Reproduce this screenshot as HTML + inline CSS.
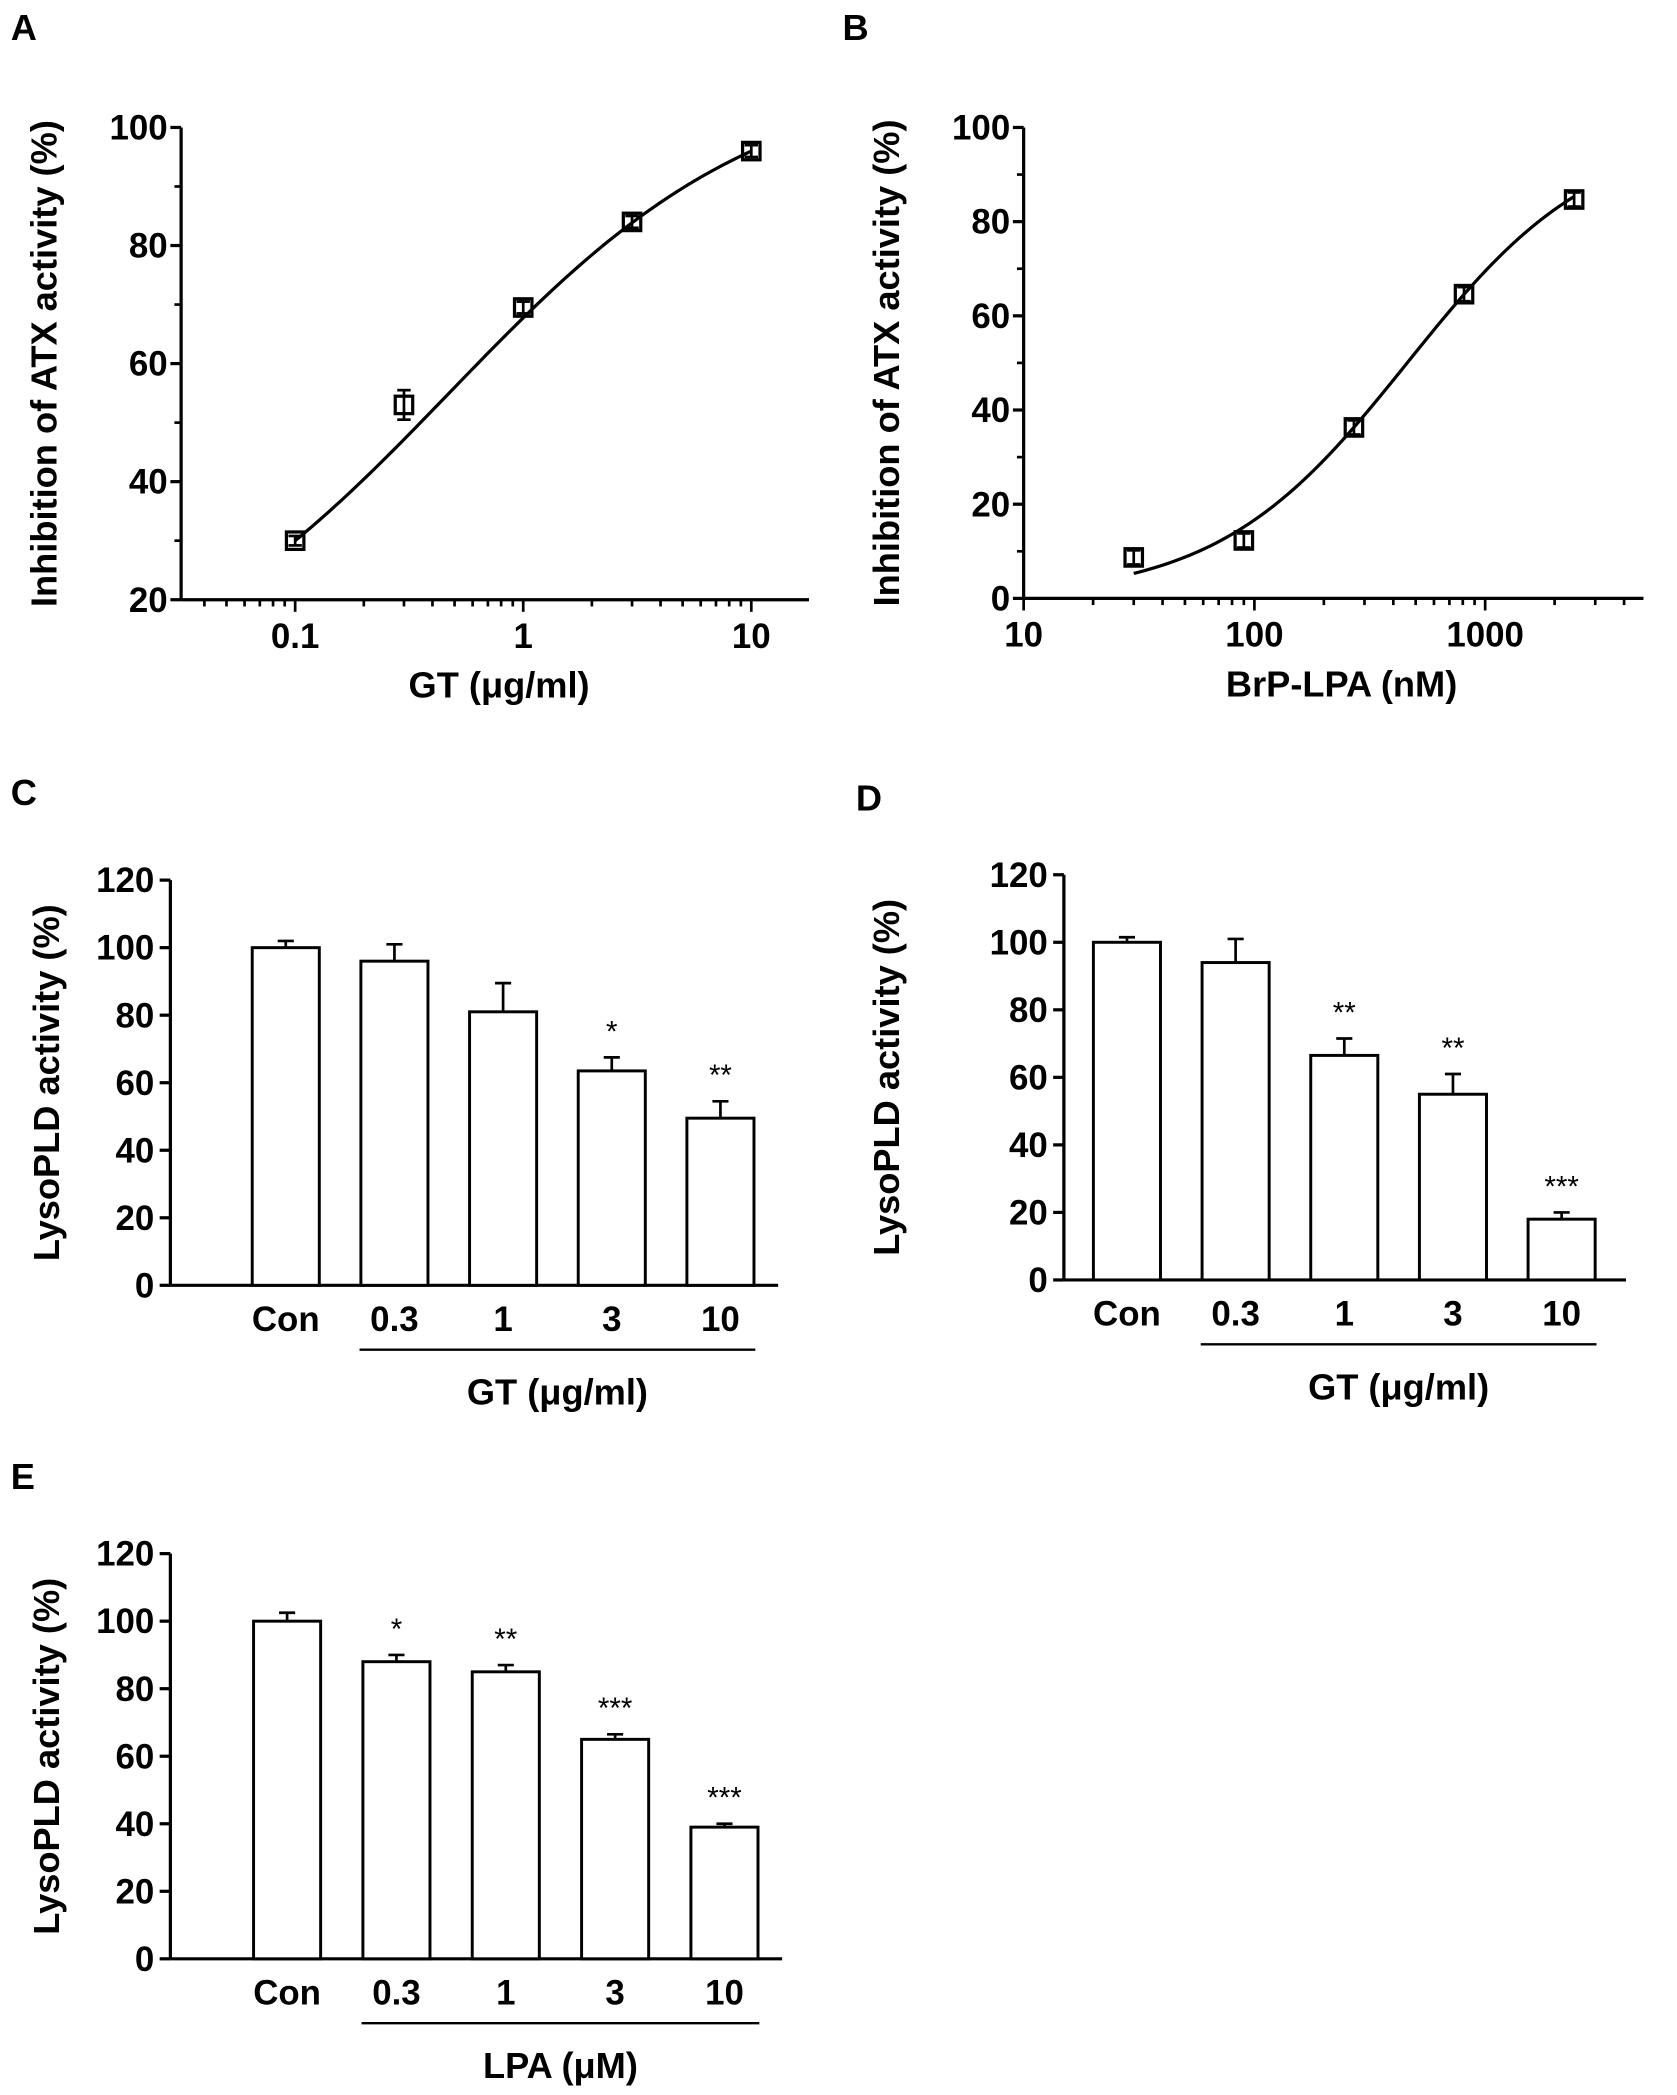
<!DOCTYPE html>
<html><head><meta charset="utf-8"><style>
html,body{margin:0;padding:0;background:#fff;}
svg{display:block;}
text{font-family:"Liberation Sans",Arial,sans-serif;font-weight:bold;fill:#000;}
.tk{font-family:"Liberation Sans Narrow","Liberation Sans",sans-serif;font-size:26px;}
.ttl{font-size:27px;}
.lt{font-size:27px;}
</style></head><body>
<svg id="fig" width="1677" height="2095" viewBox="0 0 1250 1561.5" preserveAspectRatio="none" xmlns="http://www.w3.org/2000/svg"></svg>
<script>
// Panel A data
const aDose = [0.1, 0.3, 1, 3, 10];
const aInhib = [30, 53, 69.5, 84, 96];
const aErr = [0.8, 2.5, 1, 1, 1];
const aFit = [0, 110, -0.325, 0.631]; // bottom, top, logEC50, hill
const aYTicks = [20, 40, 60, 80, 100];
const aXTicks = ["0.1", "1", "10"];
// Panel B data
const bDose = [30, 90, 270, 810, 2430];
const bInhib = [8.7, 12.3, 36.3, 64.6, 84.7];
const bErr = [1.5, 1.5, 1.5, 1.5, 1.5];
const bFit = [0, 100, 2.662, 1.057];
const bYTicks = [0, 20, 40, 60, 80, 100];
const bXTicks = ["10", "100", "1000"];
// Panel C
const cCats = ["Con", "0.3", "1", "3", "10"];
const cVals = [100, 96, 81, 63.5, 49.5];
const cErrs = [2, 5, 8.5, 4, 5];
const cStars = ["", "", "", "*", "**"];
// Panel D
const dCats = ["Con", "0.3", "1", "3", "10"];
const dVals = [100, 94, 66.5, 55, 18];
const dErrs = [1.5, 7, 5, 6, 2];
const dStars = ["", "", "**", "**", "***"];
// Panel E
const eCats = ["Con", "0.3", "1", "3", "10"];
const eVals = [100, 88, 85, 65, 39];
const eErrs = [2.5, 2, 2, 1.5, 1];
const eStars = ["", "*", "**", "***", "***"];
const barYTicks = [0, 20, 40, 60, 80, 100, 120];

const NS = "http://www.w3.org/2000/svg";
const svg = document.getElementById("fig");
function mk(tag, attrs, parent, txt){
  const e = document.createElementNS(NS, tag);
  for (const k in attrs) e.setAttribute(k, attrs[k]);
  if (txt !== undefined) e.textContent = txt;
  (parent || svg).appendChild(e);
  return e;
}
function line(x1,y1,x2,y2,w,p){return mk("line",{x1,y1,x2,y2,stroke:"#000","stroke-width":w||2.4},p);}
function group(name){const g=mk("g",{});return g;}

function logPanel(o){
  const g = group(o.name);
  const X = v => o.x0 + (Math.log10(v) - o.lmin) * o.dec;
  const Y = v => o.yb - (v - o.ymin) / (o.ymax - o.ymin) * (o.yb - o.yt);
  const ax = line(o.x0, o.yt, o.x0, o.yb, 2.4, g);
  
  
  const xa = line(o.x0, o.yb, o.xr, o.yb, 2.4, g);
  
  
  o.yTicks.forEach(v=>{
    line(o.x0-8, Y(v), o.x0, Y(v), 2.4, g);
    const t = mk("text",{x:o.x0-10,y:Y(v)+9,"text-anchor":"end",class:"tk"},g,String(v));
    
    
  });
  for (let i=0;i<o.yTicks.length-1;i++){const m=(o.yTicks[i]+o.yTicks[i+1])/2; line(o.x0-5,Y(m),o.x0,Y(m),2,g);}
  const lmaxV = o.lmin + (o.xr - o.x0)/o.dec;
  for (let d=Math.floor(o.lmin); d<=Math.ceil(lmaxV); d++){
    for (let k=1;k<10;k++){
      const lv = d + Math.log10(k);
      if (lv < o.lmin - 1e-6 || lv > lmaxV) continue;
      const xx = o.x0 + (lv - o.lmin)*o.dec;
      line(xx, o.yb, xx, o.yb + (k===1?9:5), 2, g);
    }
  }
  o.xTicks.forEach(s=>{
    const t = mk("text",{x:X(parseFloat(s)),y:o.yb+36,"text-anchor":"middle",class:"tk"},g,s);
    
    
  });
  const f = o.fit; let d = "";
  const l0 = Math.log10(o.dose[0]), l1 = Math.log10(o.dose[o.dose.length-1]);
  for (let i=0;i<=80;i++){
    const l = l0 + (l1-l0)*i/80;
    const y = f[0] + (f[1]-f[0])/(1+Math.pow(10,(f[2]-l)*f[3]));
    d += (i?"L":"M") + X(Math.pow(10,l)).toFixed(2) + "," + Y(y).toFixed(2);
  }
  const c = mk("path",{d,fill:"none",stroke:"#000","stroke-width":2.4},g);
  
  
  o.dose.forEach((v,i)=>{
    const cx = X(v), cy = Y(o.vals[i]), e = (o.yb-o.yt)/(o.ymax-o.ymin)*o.errs[i];
    line(cx, cy-e, cx, cy+e, 2, g);
    line(cx-5, cy-e, cx+5, cy-e, 2, g);
    line(cx-5, cy+e, cx+5, cy+e, 2, g);
    const r = mk("rect",{x:cx-6.5,y:cy-6.5,width:13,height:13,fill:"none",stroke:"#000","stroke-width":2.4},g);
    
    
  });
  const xt = mk("text",{x:o.xtX,y:o.yb+73,"text-anchor":"middle",class:"ttl"},g,o.xTitle);
  
  
  const yt = mk("text",{x:0,y:0,"text-anchor":"middle",class:"ttl",transform:`translate(${o.ytX},${(o.yt+o.yb)/2}) rotate(-90)`},g,o.yTitle);
  
  
}

function barPanel(o){
  const g = group(o.name);
  const Y = v => o.yb - v/120*(o.yb-o.yt);
  const ax = line(o.x0, o.yt, o.x0, o.yb, 2.4, g);
  
  
  const xa = line(o.x0, o.yb, o.xr, o.yb, 2.4, g);
  
  
  barYTicks.forEach(v=>{
    line(o.x0-8, Y(v), o.x0, Y(v), 2.4, g);
    const t = mk("text",{x:o.x0-12,y:Y(v)+9,"text-anchor":"end",class:"tk"},g,String(v));
    
    
  });
  o.cats.forEach((c,i)=>{
    const cx = o.c0 + i*o.step, w = 50;
    const top = Y(o.vals[i]), et = Y(o.vals[i]+o.errs[i]);
    line(cx, top, cx, et, 2, g);
    line(cx-6, et, cx+6, et, 2, g);
    const r = mk("rect",{x:cx-w/2,y:top,width:w,height:o.yb-top,fill:"#fff",stroke:"#000","stroke-width":2.2},g);
    
    
    if (o.stars[i]){
      const s = mk("text",{x:cx,y:et-12,"text-anchor":"middle",style:"font-size:22px;font-weight:normal"},g,o.stars[i]);
      
      
    }
    const t = mk("text",{x:cx,y:o.yb+34,"text-anchor":"middle",class:"tk"},g,c);
    
    
  });
  const lx0 = o.c0 + o.step - 26, lx1 = o.c0 + 4*o.step + 26;
  line(lx0, o.yb+48, lx1, o.yb+48, 1.8, g);
  const xt = mk("text",{x:(lx0+lx1)/2,y:o.yb+89,"text-anchor":"middle",class:"ttl"},g,o.xTitle);
  
  
  const yt = mk("text",{x:0,y:0,"text-anchor":"middle",class:"ttl",transform:`translate(${o.ytX},${(o.yt+o.yb)/2}) rotate(-90)`},g,"LysoPLD activity (%)");
  
  
}

logPanel({name:"panel-a",x0:135,xr:603,yt:95,yb:447,ymin:20,ymax:100,lmin:-1.5,dec:170,
  dose:aDose,vals:aInhib,errs:aErr,fit:aFit,yTicks:aYTicks,xTicks:aXTicks,
  xTitle:"GT (\u03bcg/ml)",xtX:372,yTitle:"Inhibition of ATX activity (%)",ytX:42});
logPanel({name:"panel-b",x0:763,xr:1225,yt:95,yb:446,ymin:0,ymax:100,lmin:1,dec:172,
  dose:bDose,vals:bInhib,errs:bErr,fit:bFit,yTicks:bYTicks,xTicks:bXTicks,
  xTitle:"BrP-LPA (nM)",xtX:1000,yTitle:"Inhibition of ATX activity (%)",ytX:670});
barPanel({name:"panel-c",x0:127,xr:580,yt:656,yb:958,c0:213,step:81,cats:cCats,vals:cVals,errs:cErrs,stars:cStars,xTitle:"GT (\u03bcg/ml)",ytX:44});
barPanel({name:"panel-d",x0:793,xr:1212,yt:652,yb:954,c0:840,step:81,cats:dCats,vals:dVals,errs:dErrs,stars:dStars,xTitle:"GT (\u03bcg/ml)",ytX:670});
barPanel({name:"panel-e",x0:127,xr:583,yt:1158,yb:1460,c0:214,step:81.5,cats:eCats,vals:eVals,errs:eErrs,stars:eStars,xTitle:"LPA (\u03bcM)",ytX:44});

[["A",8,30],["B",628,30],["C",8,600],["D",638,604],["E",8,1110]].forEach(p=>{
  const t = mk("text",{x:p[1],y:p[2],class:"lt"},svg,p[0]);
  
  
});
</script>
</body></html>
